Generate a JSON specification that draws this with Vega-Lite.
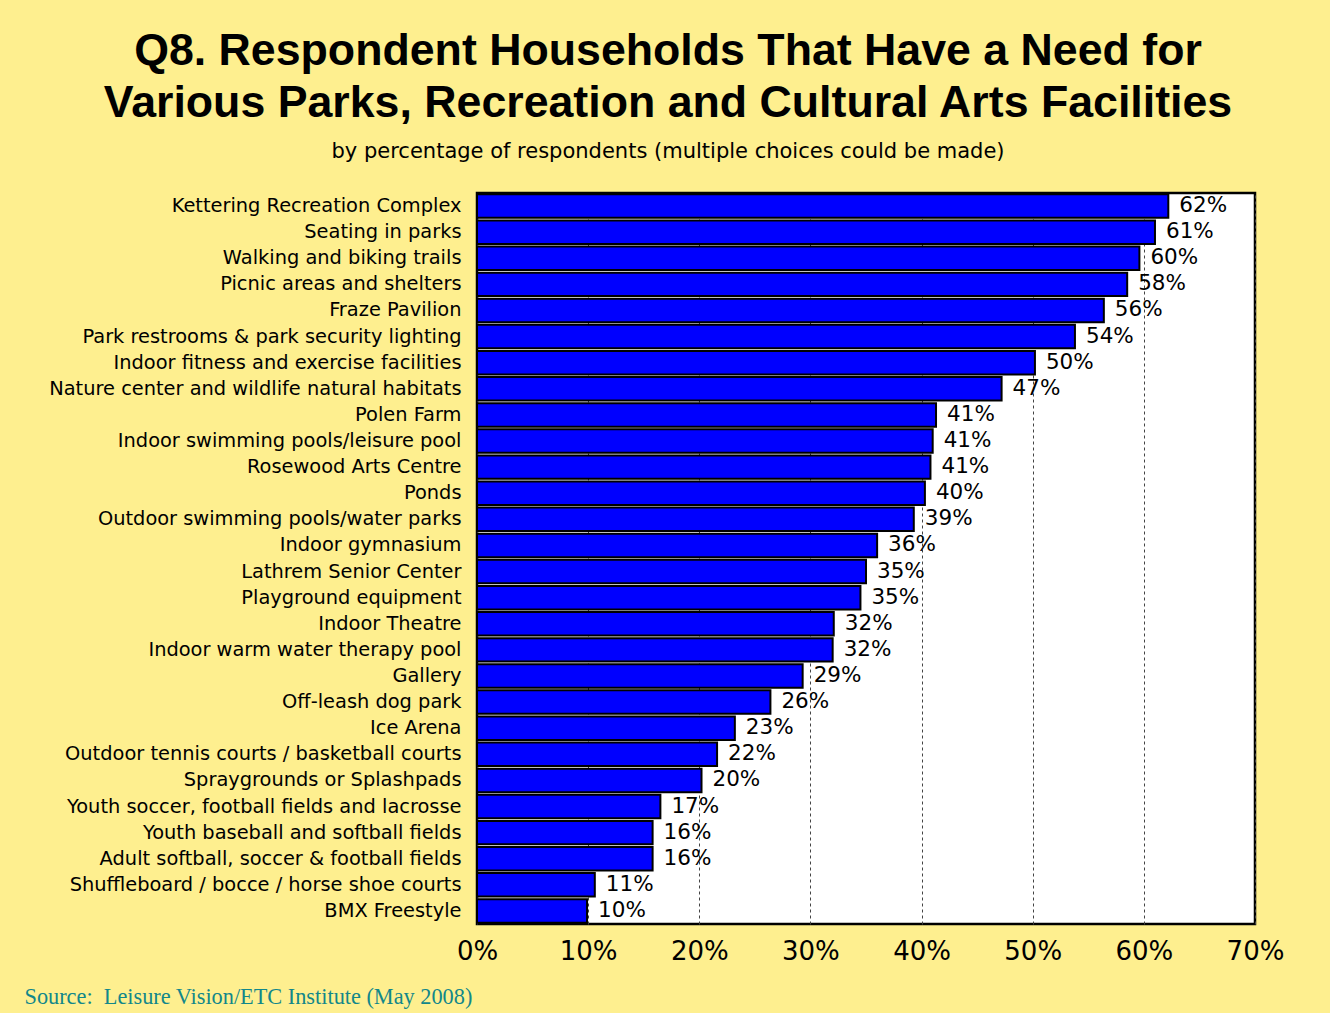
{
  "$schema": "https://vega.github.io/schema/vega-lite/v6.json",
  "width": 778,
  "height": 731,
  "autosize": {"type": "none"},
  "padding": {"left": 477, "top": 193, "right": 75, "bottom": 89},
  "background": "#FEEF8F",
  "title": {
    "text": ["Q8. Respondent Households That Have a Need for", "Various Parks, Recreation and Cultural Arts Facilities"],
    "subtitle": "by percentage of respondents (multiple choices could be made)",
    "anchor": "middle",
    "frame": "group",
    "dx": -198,
    "font": "Liberation Sans",
    "fontSize": 44.7,
    "fontWeight": "bold",
    "lineHeight": 52,
    "color": "#000000",
    "subtitleFont": "DejaVu Sans",
    "subtitleFontSize": 21,
    "subtitleColor": "#000000",
    "subtitlePadding": 14,
    "offset": 30
  },
  "data": {
    "values": [
      {"facility": "Kettering Recreation Complex", "value": 62.2, "label": "62%"},
      {"facility": "Seating in parks", "value": 61.0, "label": "61%"},
      {"facility": "Walking and biking trails", "value": 59.6, "label": "60%"},
      {"facility": "Picnic areas and shelters", "value": 58.5, "label": "58%"},
      {"facility": "Fraze Pavilion", "value": 56.4, "label": "56%"},
      {"facility": "Park restrooms & park security lighting", "value": 53.8, "label": "54%"},
      {"facility": "Indoor fitness and exercise facilities", "value": 50.2, "label": "50%"},
      {"facility": "Nature center and wildlife natural habitats", "value": 47.2, "label": "47%"},
      {"facility": "Polen Farm", "value": 41.3, "label": "41%"},
      {"facility": "Indoor swimming pools/leisure pool", "value": 41.0, "label": "41%"},
      {"facility": "Rosewood Arts Centre", "value": 40.8, "label": "41%"},
      {"facility": "Ponds", "value": 40.3, "label": "40%"},
      {"facility": "Outdoor swimming pools/water parks", "value": 39.3, "label": "39%"},
      {"facility": "Indoor gymnasium", "value": 36.0, "label": "36%"},
      {"facility": "Lathrem Senior Center", "value": 35.0, "label": "35%"},
      {"facility": "Playground equipment", "value": 34.5, "label": "35%"},
      {"facility": "Indoor Theatre", "value": 32.1, "label": "32%"},
      {"facility": "Indoor warm water therapy pool", "value": 32.0, "label": "32%"},
      {"facility": "Gallery", "value": 29.3, "label": "29%"},
      {"facility": "Off-leash dog park", "value": 26.4, "label": "26%"},
      {"facility": "Ice Arena", "value": 23.2, "label": "23%"},
      {"facility": "Outdoor tennis courts / basketball courts", "value": 21.6, "label": "22%"},
      {"facility": "Spraygrounds or Splashpads", "value": 20.2, "label": "20%"},
      {"facility": "Youth soccer, football fields and lacrosse", "value": 16.5, "label": "17%"},
      {"facility": "Youth baseball and softball fields", "value": 15.8, "label": "16%"},
      {"facility": "Adult softball, soccer & football fields", "value": 15.8, "label": "16%"},
      {"facility": "Shuffleboard / bocce / horse shoe courts", "value": 10.6, "label": "11%"},
      {"facility": "BMX Freestyle", "value": 9.9, "label": "10%"}
    ]
  },
  "config": {
    "view": {"fill": "#FFFFFF", "stroke": "#000000", "strokeWidth": 2.5},
    "font": "Liberation Sans"
  },
  "encoding": {
    "y": {
      "field": "facility",
      "type": "nominal",
      "sort": null,
      "scale": {"paddingInner": 0.1, "paddingOuter": 0.05},
      "axis": {
        "title": null,
        "domain": false,
        "ticks": false,
        "labelFont": "DejaVu Sans",
        "labelFontSize": 19.4,
        "labelColor": "#000000",
        "labelPadding": 16,
        "labelLimit": 0
      }
    }
  },
  "layer": [
    {
      "mark": {"type": "bar", "color": "#0000FF", "stroke": "#000000", "strokeWidth": 2},
      "encoding": {
        "x": {
          "field": "value",
          "type": "quantitative",
          "scale": {"domain": [0, 70], "nice": false},
          "axis": {
            "values": [0, 10, 20, 30, 40, 50, 60, 70],
            "labelExpr": "datum.value + '%'",
            "labelFont": "DejaVu Sans",
            "labelFontSize": 26,
            "labelColor": "#000000",
            "labelPadding": 14,
            "labelFlush": false,
            "labelOverlap": false,
            "labelBound": false,
            "ticks": false,
            "domain": false,
            "grid": true,
            "gridColor": "#444444",
            "gridDash": [3, 3],
            "gridWidth": 1,
            "title": "Source:\u00a0 Leisure Vision/ETC Institute (May 2008)",
            "titleFont": "Liberation Serif",
            "titleFontSize": 22.3,
            "titleFontWeight": "normal",
            "titleColor": "#12878A",
            "titleAnchor": "start",
            "titleAlign": "left",
            "titleBaseline": "alphabetic",
            "titleX": -453,
            "titleY": 79
          }
        }
      }
    },
    {
      "mark": {"type": "text", "align": "left", "baseline": "middle", "dx": 11, "fontSize": 21.5, "font": "DejaVu Sans", "color": "#000000"},
      "encoding": {
        "x": {"field": "value", "type": "quantitative"},
        "text": {"field": "label", "type": "nominal"}
      }
    }
  ]
}
